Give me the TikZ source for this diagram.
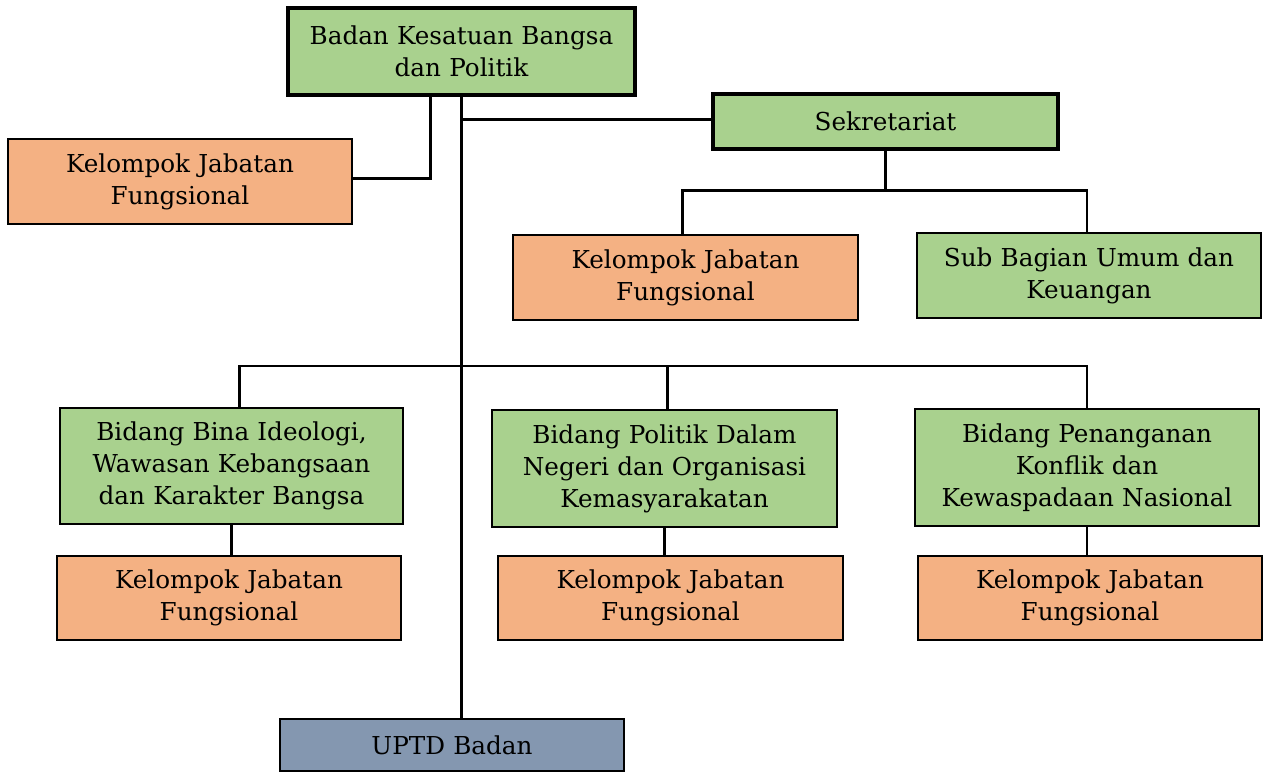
\documentclass[tikz,border=0pt]{standalone}
\usepackage{fontspec}
\setmainfont{DejaVu Serif}
\definecolor{gfill}{HTML}{A9D18E}
\definecolor{ofill}{HTML}{F4B183}
\definecolor{bfill}{HTML}{8497B0}
\begin{document}
\begin{tikzpicture}[x=0.75pt,y=-0.75pt,
  box/.style={draw=black,line width=1.6pt,align=center,inner sep=0pt,
    font=\fontsize{18.5}{24}\selectfont,text width=#1},
  box/.default=255pt,
  green/.style={box,fill=gfill},
  orange/.style={box,fill=ofill},
  conn/.style={line width=2.1pt}]
\useasboundingbox (0,0) rectangle (1265,772);
\node[green,line width=3pt,minimum width=347*0.75pt,minimum height=87*0.75pt] (top) at (461.5,51.5) {Badan Kesatuan Bangsa\\dan Politik};
\node[orange,minimum width=344*0.75pt,minimum height=85*0.75pt] (kjf0) at (180,181.5) {Kelompok Jabatan\\Fungsional};
\node[green,line width=2.6pt,minimum width=345*0.75pt,minimum height=55*0.75pt] (sek) at (885.5,121.5) {Sekretariat};
\node[orange,minimum width=345*0.75pt,minimum height=85*0.75pt] (kjfS) at (685.5,277.5) {Kelompok Jabatan\\Fungsional};
\node[green,minimum width=344*0.75pt,minimum height=85*0.75pt] (sub) at (1089,275.5) {Sub Bagian Umum dan\\Keuangan};
\node[green,minimum width=343*0.75pt,minimum height=116*0.75pt] (b1) at (231.5,466) {Bidang Bina Ideologi,\\Wawasan Kebangsaan\\dan Karakter Bangsa};
\node[green,minimum width=345*0.75pt,minimum height=117*0.75pt] (b2) at (664.5,468.5) {Bidang Politik Dalam\\Negeri dan Organisasi\\Kemasyarakatan};
\node[green,minimum width=344*0.75pt,minimum height=117*0.75pt] (b3) at (1087,467.5) {Bidang Penanganan\\Konflik dan\\Kewaspadaan Nasional};
\node[orange,minimum width=344*0.75pt,minimum height=84*0.75pt] (k1) at (229,598) {Kelompok Jabatan\\Fungsional};
\node[orange,minimum width=345*0.75pt,minimum height=84*0.75pt] (k2) at (670.5,598) {Kelompok Jabatan\\Fungsional};
\node[orange,minimum width=344*0.75pt,minimum height=84*0.75pt] (k3) at (1090,598) {Kelompok Jabatan\\Fungsional};
\node[box,fill=bfill,minimum width=344*0.75pt,minimum height=52*0.75pt] (uptd) at (452,745) {UPTD Badan};
% connectors
\coordinate (tl) at ([xshift=-31*0.75pt]top.south);
\draw[conn] ([yshift=3*0.75pt]kjf0.east) -| (tl);
\draw[conn] (top.south) -- (top.south |- uptd.north);
\draw[conn] ([yshift=2*0.75pt]top.south |- sek.west) -- ([yshift=2*0.75pt]sek.west);
\coordinate (sbar) at ([yshift=-40*0.75pt]sek.south);
\draw[conn] (sek.south) -- (sbar);
\draw[conn] ([xshift=-3*0.75pt]kjfS.north) |- (sbar) -| ([xshift=-2*0.75pt]sub.north);
\coordinate (hb) at (461,366);
\draw[conn] ([xshift=8*0.75pt]b1.north) |- (hb) -| (b3.north);
\draw[conn] ([xshift=3*0.75pt]b2.north) -- ([xshift=3*0.75pt]b2.north |- hb);
\draw[conn] (b1.south) -- (b1.south |- k1.north);
\draw[conn] (b2.south) -- (b2.south |- k2.north);
\draw[conn] (b3.south) -- (b3.south |- k3.north);
\end{tikzpicture}
\end{document}
